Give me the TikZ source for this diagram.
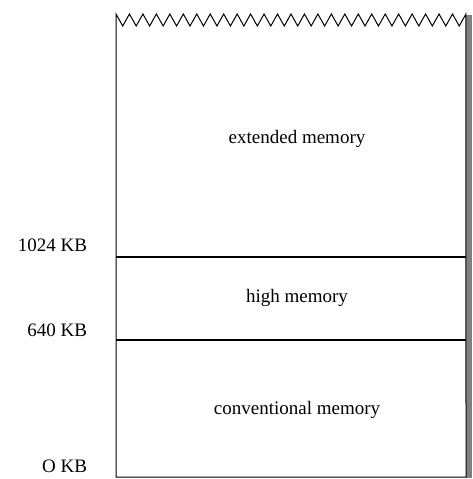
\documentclass[tikz,border=0pt]{standalone}
\usepackage{fontspec}
\setmainfont{Liberation Serif}

\begin{document}
\begin{tikzpicture}[x=1pt, y=-1pt, line width=1.3pt,
  every node/.style={font=\fontsize{19}{22}\selectfont}]
  \useasboundingbox (0, 0) rectangle (472, 479);

  % shadow on the right
  \fill[gray] (466, 15) rectangle (472, 478);

  % memory column with torn top edge
  \draw[line width=1pt, fill=white] (116, 477) -- (116, 14)
    \foreach \i in {1,...,26} { -- ++(6.73, 12) -- ++(6.73, -12) }
    -- (466, 477) -- cycle;

  \coordinate (hl) at (116, 257);
  \coordinate (hr) at (466, 257);
  \coordinate (cl) at (116, 340);
  \coordinate (cr) at (466, 340);
  \draw (hl) -- (hr);
  \draw (cl) -- (cr);

  \node (ext) at (297, 139) {extended memory};
  \node (high) at (297, 298) {high memory};
  \node (conv) at (297, 410) {conventional memory};

  \node[anchor=east] (k1024) at (91, 245) {1024 KB};
  \node[anchor=east] (k640) at (91, 330) {640 KB};
  \node[anchor=east] (k0) at (91, 466) {O KB};
\end{tikzpicture}
\end{document}
